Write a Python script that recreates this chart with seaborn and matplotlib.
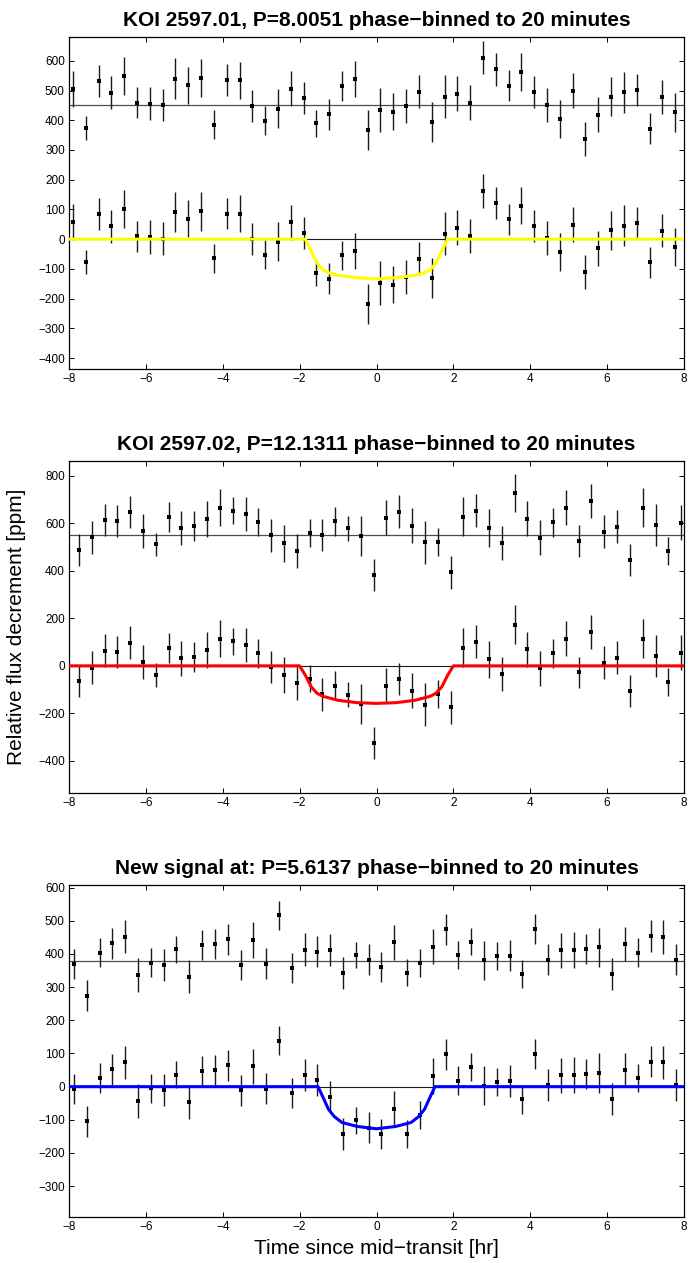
import numpy as np
import pandas as pd
import matplotlib
matplotlib.use("Agg")
import matplotlib.pyplot as plt
import seaborn as sns

# ---- data (ppm), 48 bins of 20 minutes per panel ----
titles = [
    "KOI 2597.01, P=8.0051 phase\u2212binned to 20 minutes",
    "KOI 2597.02, P=12.1311 phase\u2212binned to 20 minutes",
    "New signal at: P=5.6137 phase\u2212binned to 20 minutes",
]
bin_hours = 20 / 60
first_bin = [-7.896, -7.74, -7.87]
offsets = [450, 552, 378]
model_colors = ["#ffff00", "#ff0000", "#0000ff"]

# panel 1 (KOI 2597.01)
upper_1 = [505, 373, 533, 493, 550, 459, 456, 452, 540, 517, 542, 385, 535, 534, 448, 398,
           439, 506, 475, 390, 420, 516, 539, 367, 435, 429, 447, 496, 394, 479, 489, 459,
           611, 571, 516, 563, 494, 452, 405, 499, 338, 419, 479, 494, 503, 372, 478, 426]
lower_1 = [57, -76, 84, 43, 101, 9, 7, 2, 91, 69, 93, -64, 86, 86, 0, -53,
           -9, 57, 21, -113, -134, -55, -40, -217, -148, -153, -128, -66, -132, 18, 39, 10,
           162, 121, 67, 113, 45, 3, -43, 49, -112, -31, 30, 45, 54, -78, 28, -25]
err_1 = [60, 41, 54, 56, 64, 53, 56, 54, 68, 62, 65, 49, 53, 62, 54, 49,
         65, 59, 54, 45, 52, 50, 60, 67, 73, 63, 58, 56, 67, 72, 59, 58,
         56, 55, 52, 63, 54, 58, 64, 59, 57, 59, 66, 69, 54, 52, 56, 64]
model_t_1 = [-8, -1.85, -1.7, -1.55, -1.4, -1.2, -1.0, -0.5, 0, 0.5, 1.0, 1.2, 1.4, 1.55, 1.7, 1.85, 8]
model_f_1 = [0, 0, -40, -80, -103, -115, -122, -130, -134, -130, -122, -115, -103, -80, -40, 0, 0]

# panel 2 (KOI 2597.02)
upper_2 = [489, 541, 614, 610, 647, 566, 511, 628, 581, 587, 618, 666, 653, 639, 604, 549,
           515, 483, 559, 551, 608, 579, 548, 383, 624, 649, 590, 520, 521, 393, 628, 653,
           579, 517, 726, 619, 539, 604, 666, 525, 695, 565, 586, 445, 666, 594, 483, 603]
lower_2 = [-63, -8, 63, 59, 97, 15, -39, 76, 31, 37, 66, 115, 103, 88, 52, -4,
           -37, -72, -55, -120, -83, -122, -162, -326, -84, -55, -105, -163, -118, -174, 77, 101,
           27, -34, 174, 69, -11, 52, 115, -27, 143, 14, 35, -105, 115, 42, -67, 55]
err_2 = [67, 70, 69, 67, 69, 72, 50, 63, 72, 63, 76, 77, 58, 70, 59, 68,
         76, 72, 57, 68, 60, 52, 84, 68, 74, 69, 74, 90, 60, 69, 83, 70,
         79, 71, 80, 74, 74, 61, 75, 66, 71, 68, 70, 68, 83, 89, 58, 74]
model_t_2 = [-8, -2.0, -1.85, -1.7, -1.55, -1.4, -1.0, -0.5, 0, 0.5, 1.0, 1.4, 1.55, 1.7, 1.85, 2.0, 8]
model_f_2 = [0, 0, -40, -88, -115, -128, -145, -155, -158, -155, -145, -128, -115, -88, -40, 0, 0]

# panel 3 (new signal)
upper_3 = [369, 274, 404, 432, 452, 336, 374, 367, 414, 331, 427, 430, 444, 367, 441, 371,
           517, 359, 413, 407, 412, 342, 397, 383, 361, 435, 344, 373, 422, 475, 397, 437,
           381, 393, 395, 340, 476, 383, 411, 412, 415, 420, 339, 429, 404, 454, 451, 383]
lower_3 = [-8, -105, 26, 52, 73, -43, -5, -11, 36, -47, 47, 49, 64, -11, 61, -6,
           139, -19, 35, 20, -31, -143, -102, -124, -142, -66, -144, -85, 32, 97, 18, 59,
           3, 15, 17, -38, 98, 5, 34, 35, 38, 41, -38, 49, 26, 75, 73, 5]
err_3 = [45, 47, 44, 46, 50, 52, 43, 48, 41, 50, 46, 45, 47, 46, 54, 47,
         44, 45, 49, 47, 48, 49, 40, 47, 45, 52, 42, 42, 53, 47, 43, 41,
         58, 42, 47, 43, 45, 47, 52, 54, 44, 59, 48, 51, 43, 47, 50, 47]
model_t_3 = [-8, -1.52, -1.4, -1.25, -1.1, -0.9, -0.5, 0, 0.5, 0.9, 1.1, 1.25, 1.4, 1.52, 8]
model_f_3 = [0, 0, -30, -68, -90, -108, -120, -127, -120, -108, -90, -68, -30, 0, 0]

uppers = [upper_1, upper_2, upper_3]
lowers = [lower_1, lower_2, lower_3]
errs = [err_1, err_2, err_3]
model_ts = [model_t_1, model_t_2, model_t_3]
model_fs = [model_f_1, model_f_2, model_f_3]
ylims = [(-437, 680), (-535, 862), (-393, 608)]
ysteps = [100, 200, 100]

sns.set_style("ticks", {"xtick.direction": "in", "ytick.direction": "in"})
plt.rcParams["font.family"] = ["Liberation Sans", "DejaVu Sans"]
plt.rcParams["text.color"] = "black"
plt.rcParams["axes.labelcolor"] = "black"
plt.rcParams["xtick.color"] = "black"
plt.rcParams["ytick.color"] = "black"
plt.rcParams["axes.linewidth"] = 0.9
plt.rcParams["xtick.major.size"] = 3.6
plt.rcParams["ytick.major.size"] = 3.6
plt.rcParams["xtick.major.width"] = 0.7
plt.rcParams["ytick.major.width"] = 0.7
plt.rcParams["xtick.top"] = True
plt.rcParams["ytick.right"] = True

W, H = 688, 1263
fig = plt.figure(figsize=(W / 100, H / 100), dpi=100)
fig.patch.set_facecolor("white")

axes_px = [(37, 369), (461, 793), (885, 1217)]
left_px, right_px = 69, 684

def minus(v):
    return f"{int(v):d}".replace("-", "\u2212")

for i in range(3):
    top, bottom = axes_px[i]
    ax = fig.add_axes([left_px / W, 1 - bottom / H, (right_px - left_px) / W, (bottom - top) / H])
    t = first_bin[i] + np.arange(len(lowers[i])) * bin_hours
    df = pd.DataFrame({"t": t, "upper": uppers[i], "lower": lowers[i], "err": errs[i]})

    ax.axhline(offsets[i], color="0.3", lw=0.9, zorder=1)
    ax.axhline(0, color="0.1", lw=0.8, zorder=1)

    for col in ("upper", "lower"):
        ax.errorbar(df["t"], df[col], yerr=df["err"], fmt="none", ecolor="0.1",
                    elinewidth=1.0, capsize=0, zorder=2)
        sns.scatterplot(data=df, x="t", y=col, ax=ax, color="black", s=5,
                        marker="s", linewidth=0, zorder=3)

    mdf = pd.DataFrame({"t": model_ts[i], "f": model_fs[i]})
    sns.lineplot(data=mdf, x="t", y="f", ax=ax, color=model_colors[i], lw=2.2, zorder=4)

    ax.set_xlim(-8, 8)
    ax.set_ylim(*ylims[i])
    xt = np.arange(-8, 9, 2)
    ax.set_xticks(xt)
    ax.set_xticklabels([minus(v) for v in xt])
    lo = int(np.ceil(ylims[i][0] / ysteps[i]) * ysteps[i])
    yt = np.arange(lo, ylims[i][1] + 1, ysteps[i])
    ax.set_yticks(yt)
    ax.set_yticklabels([minus(v) for v in yt])
    ax.tick_params(labelsize=8.5, pad=3)
    ax.set_xlabel("")
    ax.set_ylabel("")
    ax.set_title(titles[i], fontsize=15, fontweight="bold", pad=8, color="black")
    for s in ax.spines.values():
        s.set_visible(True)
        s.set_color("black")

fig.text((left_px + right_px) / 2 / W, 1 - 1254 / H, "Time since mid\u2212transit [hr]",
         ha="center", va="baseline", fontsize=15)
fig.text(17 / W, 1 - 627 / H, "Relative flux decrement [ppm]", rotation=90,
         ha="center", va="center", fontsize=15)

fig.savefig("out.png", dpi=100)
